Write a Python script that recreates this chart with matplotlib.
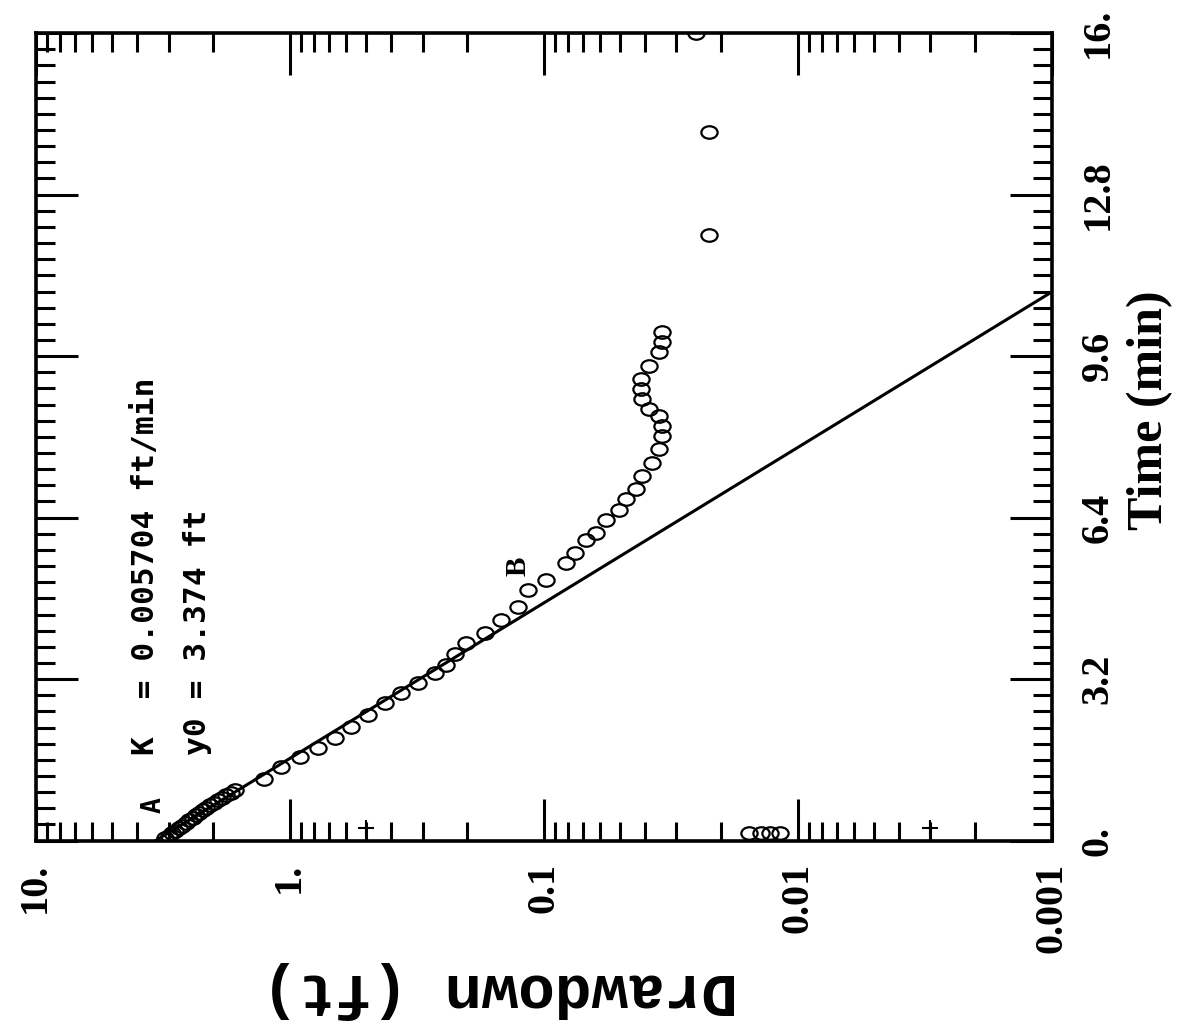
import matplotlib
matplotlib.use("Agg")
import matplotlib.pyplot as plt
from matplotlib.markers import MarkerStyle
from matplotlib.transforms import Affine2D
from matplotlib.ticker import LogLocator, MultipleLocator, NullFormatter

# drawdown axis (log) and time axis
drawdown_ticks = [10, 1, 0.1, 0.01, 0.001]
drawdown_labels = ["10.", "1.", "0.1", "0.01", "0.001"]
time_ticks = [0, 3.2, 6.4, 9.6, 12.8, 16]
time_labels = ["0.", "3.2", "6.4", "9.6", "12.8", "16."]

# observed recovery (time in min, drawdown in ft)
obs_time = [0.05, 0.10, 0.15, 0.20, 0.25, 0.30, 0.35, 0.40, 0.45, 0.50,
            0.55, 0.60, 0.65, 0.70, 0.75, 0.80, 0.85, 0.90, 0.95, 1.00,
            1.23, 1.45, 1.65, 1.83, 2.03, 2.25, 2.49, 2.72, 2.92, 3.12,
            3.32, 3.48, 3.70, 3.92, 4.11, 4.37, 4.63, 4.97, 5.17, 5.51,
            5.70, 5.96, 6.10, 6.36, 6.56, 6.76, 6.96, 7.22, 7.49, 7.75,
            8.01, 8.21, 8.41, 8.55, 8.75, 8.94, 9.14, 9.40, 9.68, 9.88,
            10.08]
obs_drawdown = [3.10, 3.00, 2.91, 2.82, 2.73, 2.65, 2.57, 2.49, 2.41, 2.34,
                2.27, 2.20, 2.13, 2.06, 1.99, 1.92, 1.85, 1.78, 1.71, 1.64,
                1.26, 1.085, 0.913, 0.775, 0.664, 0.574, 0.492, 0.421, 0.364, 0.312,
                0.267, 0.242, 0.223, 0.203, 0.170, 0.147, 0.126, 0.115, 0.098, 0.082,
                0.075, 0.068, 0.062, 0.057, 0.0505, 0.0474, 0.0433, 0.0410, 0.0374, 0.0351,
                0.0342, 0.0342, 0.0351, 0.0385, 0.0410, 0.0414, 0.0414, 0.0385, 0.0351, 0.0342,
                0.0342]

# late / stray readings
late_time = [12.0, 14.05, 16.0]
late_drawdown = [0.0223, 0.0223, 0.0251]
early_time = [0.15, 0.15, 0.15, 0.15]
early_drawdown = [0.0155, 0.0140, 0.0128, 0.0117]
plus_time = [0.25, 0.25]
plus_drawdown = [0.5, 0.003]

# straight-line fit (Bouwer-Rice)
fit_time = [0.0, 10.87]
fit_drawdown = [3.374, 0.001]

fig = plt.figure(figsize=(11.91, 10.34), dpi=100)
ax = fig.add_axes([0.030, 0.187, 0.853, 0.781])

# slightly flattened circle, as on the old plotter output
circ = MarkerStyle("o", transform=Affine2D().scale(1.3, 1.0))
mk = dict(linestyle="none", marker=circ, mfc="none", mec="black", ms=9, mew=1.6)

ax.plot(fit_drawdown, fit_time, color="black", lw=2.2)
ax.plot(obs_drawdown, obs_time, **mk)
ax.plot(late_drawdown, late_time, **mk)
ax.plot(early_drawdown, early_time, **mk)
ax.plot(plus_drawdown, plus_time, "+", color="black", ms=12, mew=1.5)

ax.set_xscale("log")
ax.set_xlim(10, 0.001)
ax.set_ylim(0, 16)

ax.set_xticks(drawdown_ticks, drawdown_labels)
ax.xaxis.set_minor_locator(LogLocator(base=10, subs=range(2, 10)))
ax.xaxis.set_minor_formatter(NullFormatter())
ax.set_yticks(time_ticks, time_labels)
ax.yaxis.set_minor_locator(MultipleLocator(0.32))

ax.tick_params(axis="both", which="both", direction="in", width=2.2,
               top=True, bottom=True, left=True, right=True,
               labelleft=False, labelright=True)
ax.tick_params(axis="both", which="major", length=30)
ax.tick_params(axis="both", which="minor", length=14)
ax.tick_params(axis="x", which="major", pad=16)
ax.tick_params(axis="y", which="major", pad=20)

for lbl in ax.get_xticklabels():
    lbl.set_rotation(90)
    lbl.set_family("Liberation Serif")
    lbl.set_weight("bold")
    lbl.set_fontsize(29)
for lbl in ax.get_yticklabels():
    lbl.set_rotation(90)
    lbl.set_va("center")
    lbl.set_family("Liberation Serif")
    lbl.set_weight("bold")
    lbl.set_fontsize(29)

for sp in ax.spines.values():
    sp.set_linewidth(2.6)

ax.text(3.71, 1.7, "K  = 0.005704 ft/min", rotation=90, ha="center", va="bottom",
        family="DejaVu Sans Mono", weight="bold", fontsize=22.5)
ax.text(2.31, 1.7, "y0 = 3.374 ft", rotation=90, ha="center", va="bottom",
        family="DejaVu Sans Mono", weight="bold", fontsize=22.5)
ax.text(3.45, 0.7, "A", rotation=90, ha="center", va="center",
        family="DejaVu Sans Mono", weight="bold", fontsize=19)
ax.text(0.1256, 5.43, "B", rotation=90, ha="center", va="center",
        family="Liberation Serif", weight="bold", fontsize=21)

fig.text(500 / 1191, 1 - 990 / 1034, "Drawdown (ft)", rotation=180,
         ha="center", va="center", family="Liberation Mono", weight="bold", fontsize=44)
fig.text(1150 / 1191, 1 - 410 / 1034, "Time (min)", rotation=90,
         ha="center", va="center", family="Liberation Serif", weight="bold", fontsize=36)

fig.savefig("out.png", dpi=100)
